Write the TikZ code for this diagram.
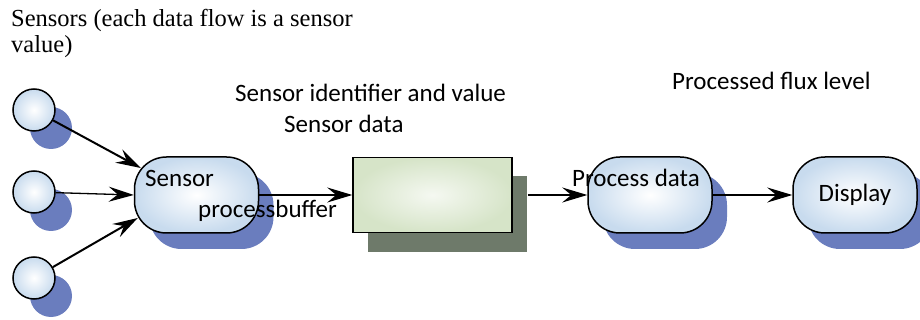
\documentclass[tikz,border=0pt]{standalone}
\usepackage{fontspec}
\setmainfont{Liberation Serif}
\newfontfamily\carl{Carlito}
\usetikzlibrary{arrows.meta,shadows}
\definecolor{shblue}{RGB}{106,125,190}
\definecolor{nblue}{RGB}{200,219,238}
\definecolor{bgreen}{RGB}{214,228,200}
\definecolor{shgreen}{RGB}{110,122,106}
\begin{document}
\begin{tikzpicture}[x=1pt,y=-1pt,
  blob/.style={draw=black, line width=1.5pt, rounded corners=32pt,
    minimum width=124pt, minimum height=76pt, inner sep=0pt,
    shading=radial, inner color=white, outer color=nblue,
    general shadow={fill=shblue, shadow xshift=15pt, shadow yshift=-16pt}},
  sensorc/.style={circle, draw=black, line width=1.5pt, minimum size=42pt,
    inner sep=0pt, shading=radial, inner color=white, outer color=nblue,
    general shadow={fill=shblue, shadow xshift=17pt, shadow yshift=-18pt}},
  bufbox/.style={rectangle, draw=black, line width=1.5pt,
    minimum width=159pt, minimum height=75pt, inner sep=0pt,
    shading=radial, inner color=white!75!bgreen, outer color=bgreen,
    general shadow={fill=shgreen, shadow xshift=15pt, shadow yshift=-19pt}},
  lbl/.style={font=\carl\fontsize{25}{28}\selectfont, inner sep=0pt, anchor=base west},
  serif/.style={font=\fontsize{24.5}{26}\selectfont, inner sep=0pt, anchor=base west},
  arr/.style={-{Stealth[length=25pt,width=15pt,inset=9pt]}, line width=1.1pt},
]
\useasboundingbox (0,0) rectangle (920,320);

% sensors
\node[sensorc] (s1) at (34,110) {};
\node[sensorc] (s2) at (34,192) {};
\node[sensorc] (s3) at (34,278) {};

% process nodes
\node[blob] (sp) at (196.5,195) {};
\node[bufbox] (buf) at (432.5,195) {};
\node[blob] (pd) at (650,195) {};
\node[blob, font=\carl\fontsize{25}{28}\selectfont] (dp) at (855,195) {Display};

% connectors
\draw[arr, line width=2pt] (s1) -- ([xshift=7pt,yshift=27pt]sp.west);
\draw[arr, line width=1.3pt] (s2) -- (sp.west);
\draw[arr, line width=2pt] (s3) -- ([xshift=4pt,yshift=-23pt]sp.west);
\draw[arr] (sp.east) -- (buf.west);
\draw[arr] ([xshift=15pt]buf.east) -- (pd.west);
\draw[arr] (pd.east) -- (dp.west);

% texts
\node[serif] (t1) at (11,27) {Sensors (each data flow is a sensor};
\node[serif] (t2) at (11,53) {value)};
\node[lbl] (l1) at (235,102) {Sensor identifier and value};
\node[lbl] (l2) at (284,133) {Sensor data};
\node[lbl] (l3) at (672,90) {Processed flux level};
\node[lbl] (l4) at (145,187) {Sensor};
\node[lbl] (l5) at (198,218) {processbuffer};
\node[lbl] (l6) at (572,187) {Process data};
\end{tikzpicture}
\end{document}
